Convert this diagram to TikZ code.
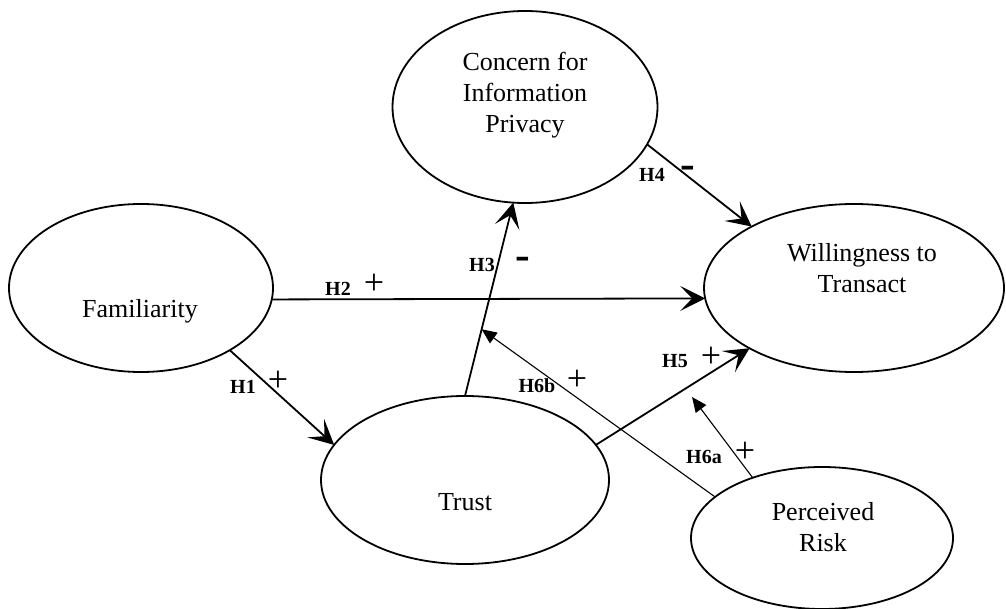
\documentclass[tikz,border=0pt]{standalone}
\usepackage{fontspec}
\setmainfont{Liberation Serif}
\usetikzlibrary{arrows.meta}
\usetikzlibrary{shapes.geometric}
\usetikzlibrary{calc}
\tikzset{construct/.style = {draw, ellipse, line width=1.8pt, inner sep=0pt, outer sep=0pt},
         cname/.style = {align=center, font=\fontsize{26}{31}\selectfont},
         hyp/.style = {line width=1.8pt, -{Stealth[length=25pt, width=25pt, inset=12pt]}},
         modhyp/.style = {line width=1.1pt, -{Triangle[length=15pt, width=13pt]}},
         hlab/.style = {font=\bfseries\fontsize{20}{24}\selectfont, inner sep=0pt},
         plus/.style = {font=\fontsize{36}{40}\selectfont, inner sep=0pt},
         minus/.style = {font=\bfseries\fontsize{44}{48}\selectfont, inner sep=0pt}}

\begin{document}
\begin{tikzpicture}[x=1pt, y=-1pt]
      \useasboundingbox (0, 0) rectangle (1006, 609);
      % constructs
      \node [construct, minimum width=264pt, minimum height=168pt] (fam) at (141, 288) {};
      \node [construct, minimum width=265pt, minimum height=192pt] (cfip) at (525, 107) {};
      \node [construct, minimum width=300pt, minimum height=168pt] (wtt) at (854, 288) {};
      \node [construct, minimum width=288pt, minimum height=168pt] (trust) at (465, 480) {};
      \node [construct, minimum width=262pt, minimum height=142pt] (risk) at (822, 538) {};
      \node [cname] (famtxt) at (140, 311) {Familiarity};
      \node [cname] (cfiptxt) at (525, 95) {Concern for\\Information\\Privacy};
      \node [cname] (wtttxt) at (862, 268) {Willingness to\\Transact};
      \node [cname] (trusttxt) at (465, 502) {Trust};
      \node [cname] (risktxt) at (823, 527) {Perceived\\Risk};
      % hypotheses
      \draw [hyp] (fam.-35) -- (trust.165);
      \draw [hyp] (fam.-5) -- (wtt.184.5);
      \draw [hyp] (trust.90) -- (cfip.-97);
      \draw [hyp] (cfip.-17.5) -- (wtt.149);
      \draw [hyp] (trust.15.8) -- (wtt.210);
      \coordinate (h6atip) at (692, 397);
      \coordinate (h6btip) at ($(trust.90)!0.345!(cfip.-97)$);
      \draw [modhyp] (risk.139) -- (h6atip);
      \draw [modhyp] (risk.159) -- (h6btip);
      % labels
      \node [hlab] (h1) at (243, 387) {H1};
      \node [plus] (h1s) at (278, 381) {+};
      \node [hlab] (h2) at (338, 289) {H2};
      \node [plus] (h2s) at (374, 284) {+};
      \node [hlab] (h3) at (482, 265) {H3};
      \node [minus] (h3s) at (523, 263) {-};
      \node [hlab] (h4) at (652, 175) {H4};
      \node [minus] (h4s) at (688, 172) {-};
      \node [hlab] (h5) at (675, 361) {H5};
      \node [plus] (h5s) at (711, 357) {+};
      \node [hlab] (h6a) at (704, 457) {H6a};
      \node [plus] (h6as) at (745, 452) {+};
      \node [hlab] (h6b) at (537, 386) {H6b};
      \node [plus] (h6bs) at (577, 380) {+};
    \end{tikzpicture}
\end{document}
